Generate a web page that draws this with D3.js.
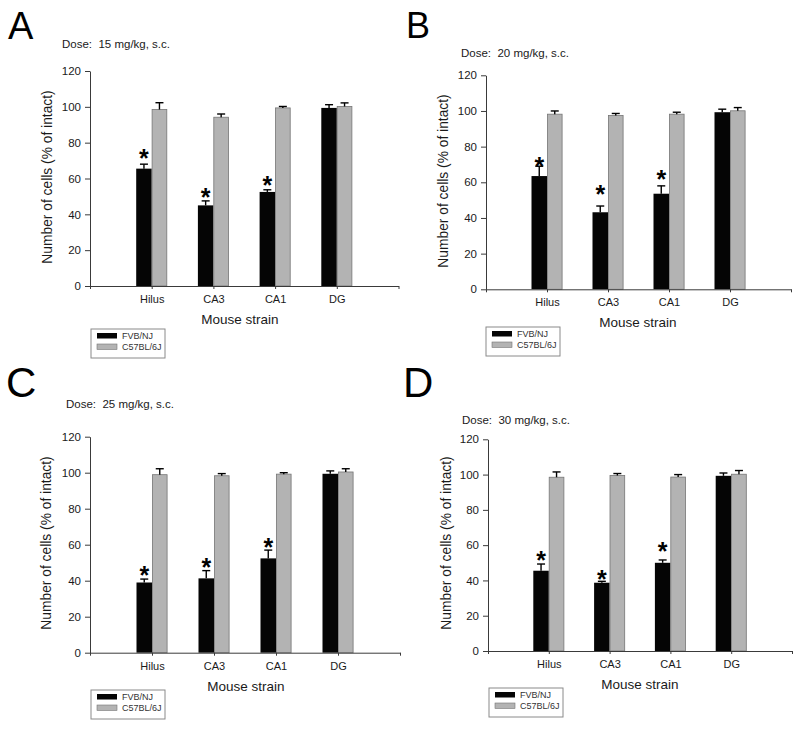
<!DOCTYPE html>
<html>
<head>
<meta charset="utf-8">
<script src="https://cdn.jsdelivr.net/npm/d3@7"></script>
<style>
  html, body { margin: 0; padding: 0; background: #fff; }
  svg { display: block; font-family: "Liberation Sans", Arial, sans-serif; }
</style>
</head>
<body>
<svg id="chart" width="800" height="733"></svg>
<script>
// ---------- data ----------
const panelLetters = ["A", "B", "C", "D"];
const doseLabels = ["Dose:  15 mg/kg, s.c.", "Dose:  20 mg/kg, s.c.", "Dose:  25 mg/kg, s.c.", "Dose:  30 mg/kg, s.c."];
const categories = ["Hilus", "CA3", "CA1", "DG"];
const seriesNames = ["FVB/NJ", "C57BL/6J"];
const yTicks = [0, 20, 40, 60, 80, 100, 120];
const xTitle = "Mouse strain";
const yTitle = "Number of cells (% of intact)";

// mean and SEM (upper error) per panel (A..D), per region (Hilus, CA3, CA1, DG)
const fvbMean = [[65.5, 45.0, 52.5, 99.4], [63.5, 43.2, 53.6, 99.3], [39.0, 41.3, 52.4, 99.4], [45.5, 38.7, 50.0, 99.3]];
const fvbSem  = [[2.5, 2.5, 1.2, 1.8], [5.5, 3.5, 4.4, 1.7], [1.9, 4.3, 4.6, 1.6], [3.8, 0.8, 1.6, 1.6]];
const c57Mean = [[98.5, 94.2, 99.4, 100.2], [98.2, 97.5, 98.2, 100.1], [98.9, 98.3, 99.2, 100.4], [98.5, 99.5, 98.6, 100.2]];
const c57Sem  = [[3.8, 1.8, 0.8, 2.0], [1.8, 1.1, 1.1, 1.8], [3.3, 1.2, 0.8, 1.8], [3.0, 1.1, 1.4, 2.1]];
// significance markers (value position of the asterisk; null = none)
const starValue = [[74.2, 52.2, 58.9, null], [71.8, 56.3, 64.4, null], [45.9, 50.4, 61.3, null], [54.3, 43.9, 59.5, null]];

// ---------- layout (pixel geometry, not data) ----------
const layout = [
  { x0: 90,  x1: 398.5, yTop: 71,    yBot: 286,   letter: [8, 39, 38],   dose: [62, 48],   ylab: [52, 177],  titleX: 240, legend: [91, 329] },
  { x0: 486, x1: 791,   yTop: 75.3,  yBot: 289.3, letter: [406, 38, 36], dose: [461, 57],  ylab: [448, 181], titleX: 638, legend: [486, 327] },
  { x0: 90,  x1: 400,   yTop: 436.7, yBot: 652.7, letter: [6, 397, 42],  dose: [66, 408],  ylab: [51, 543],  titleX: 246, legend: [91, 690] },
  { x0: 488, x1: 792,   yTop: 439.3, yBot: 651,   letter: [403, 397, 42], dose: [462, 424], ylab: [451, 543], titleX: 640, legend: [489, 688] }
];
const barW = 15.5;
const colors = { fvb: "#050505", c57: "#b3b3b3", c57Stroke: "#767676", axis: "#3a3a3a", text: "#1a1a1a" };

const svg = d3.select("#chart");
const slots = ["_s0", ...categories, "_s5"];

panelLetters.forEach((letter, p) => {
  const L = layout[p];
  const g = svg.append("g");

  const x = d3.scalePoint().domain(slots).range([L.x0, L.x1]);
  const y = d3.scaleLinear().domain([0, 120]).range([L.yBot, L.yTop]);

  // panel letter
  g.append("text").attr("x", L.letter[0]).attr("y", L.letter[1])
    .attr("font-size", L.letter[2]).attr("fill", "#000").text(letter);

  // dose label
  g.append("text").attr("x", L.dose[0]).attr("y", L.dose[1])
    .attr("font-size", 11.5).attr("fill", colors.text)
    .style("white-space", "pre").text(doseLabels[p]);

  // bars
  const rows = categories.map((c, i) => ({
    cat: c,
    fvb: fvbMean[p][i], fvbE: fvbSem[p][i],
    c57: c57Mean[p][i], c57E: c57Sem[p][i],
    star: starValue[p][i]
  }));

  g.selectAll("rect.fvb").data(rows).join("rect")
    .attr("class", "fvb")
    .attr("x", d => x(d.cat) - barW)
    .attr("width", barW)
    .attr("y", d => y(d.fvb))
    .attr("height", d => y(0) - y(d.fvb))
    .attr("fill", colors.fvb);

  g.selectAll("rect.c57").data(rows).join("rect")
    .attr("class", "c57")
    .attr("x", d => x(d.cat) + 0.4)
    .attr("width", barW - 0.8)
    .attr("y", d => y(d.c57))
    .attr("height", d => y(0) - y(d.c57))
    .attr("fill", colors.c57)
    .attr("stroke", colors.c57Stroke)
    .attr("stroke-width", 0.8);

  // error bars (upper only)
  const errs = [];
  rows.forEach(d => {
    errs.push({ cx: x(d.cat) - barW / 2, m: d.fvb, e: d.fvbE });
    errs.push({ cx: x(d.cat) + barW / 2, m: d.c57, e: d.c57E });
  });
  const eg = g.append("g").attr("stroke", "#000").attr("stroke-width", 1.4);
  eg.selectAll("line.v").data(errs).join("line")
    .attr("x1", d => d.cx).attr("x2", d => d.cx)
    .attr("y1", d => y(d.m)).attr("y2", d => y(d.m + d.e));
  eg.selectAll("line.c").data(errs).join("line")
    .attr("x1", d => d.cx - 4).attr("x2", d => d.cx + 4)
    .attr("y1", d => y(d.m + d.e)).attr("y2", d => y(d.m + d.e));

  // asterisks
  g.selectAll("text.star").data(rows.filter(d => d.star != null)).join("text")
    .attr("class", "star")
    .attr("x", d => x(d.cat) - barW / 2)
    .attr("y", d => y(d.star) + 14)
    .attr("text-anchor", "middle")
    .attr("font-size", 25)
    .attr("font-weight", "bold")
    .attr("fill", "#000")
    .text("*");

  // y axis
  const ya = g.append("g").attr("transform", `translate(${L.x0},0)`)
    .call(d3.axisLeft(y).tickValues(yTicks).tickSize(5).tickSizeOuter(0).tickPadding(4));
  ya.select(".domain").attr("stroke", colors.axis);
  ya.selectAll(".tick line").attr("stroke", colors.axis);
  ya.selectAll(".tick text").attr("font-size", 11.5).attr("fill", colors.text)
    .attr("font-family", "Liberation Sans, Arial, sans-serif");

  // x axis
  const xa = g.append("g").attr("transform", `translate(0,${L.yBot})`)
    .call(d3.axisBottom(x).tickSize(3).tickSizeOuter(0).tickPadding(6.2)
      .tickFormat(d => d.startsWith("_") ? "" : d));
  xa.select(".domain").attr("stroke", colors.axis);
  xa.selectAll(".tick line").attr("stroke", colors.axis);
  xa.selectAll(".tick text").attr("font-size", 11).attr("fill", colors.text)
    .attr("font-family", "Liberation Sans, Arial, sans-serif");

  // axis titles
  g.append("text").attr("x", L.titleX).attr("y", L.yBot + 38)
    .attr("text-anchor", "middle").attr("font-size", 13.5).attr("fill", colors.text)
    .text(xTitle);
  g.append("text")
    .attr("transform", `translate(${L.ylab[0]},${L.ylab[1]}) rotate(-90)`)
    .attr("text-anchor", "middle").attr("font-size", 13.8).attr("fill", colors.text)
    .text(yTitle);

  // legend
  const lg = g.append("g").attr("transform", `translate(${L.legend[0]},${L.legend[1]})`);
  lg.append("rect").attr("x", 0).attr("y", 0).attr("width", 74).attr("height", 29)
    .attr("fill", "#fff").attr("stroke", "#8a8a8a").attr("stroke-width", 1);
  const legFill = [colors.fvb, colors.c57];
  seriesNames.forEach((s, i) => {
    lg.append("rect").attr("x", 6).attr("y", 4 + i * 11).attr("width", 20).attr("height", 5.5)
      .attr("fill", legFill[i]).attr("stroke", i ? colors.c57Stroke : "none").attr("stroke-width", 0.6);
    lg.append("text").attr("x", 31).attr("y", 9.5 + i * 11)
      .attr("font-size", 9).attr("fill", "#333").text(s);
  });
});
</script>
</body>
</html>
